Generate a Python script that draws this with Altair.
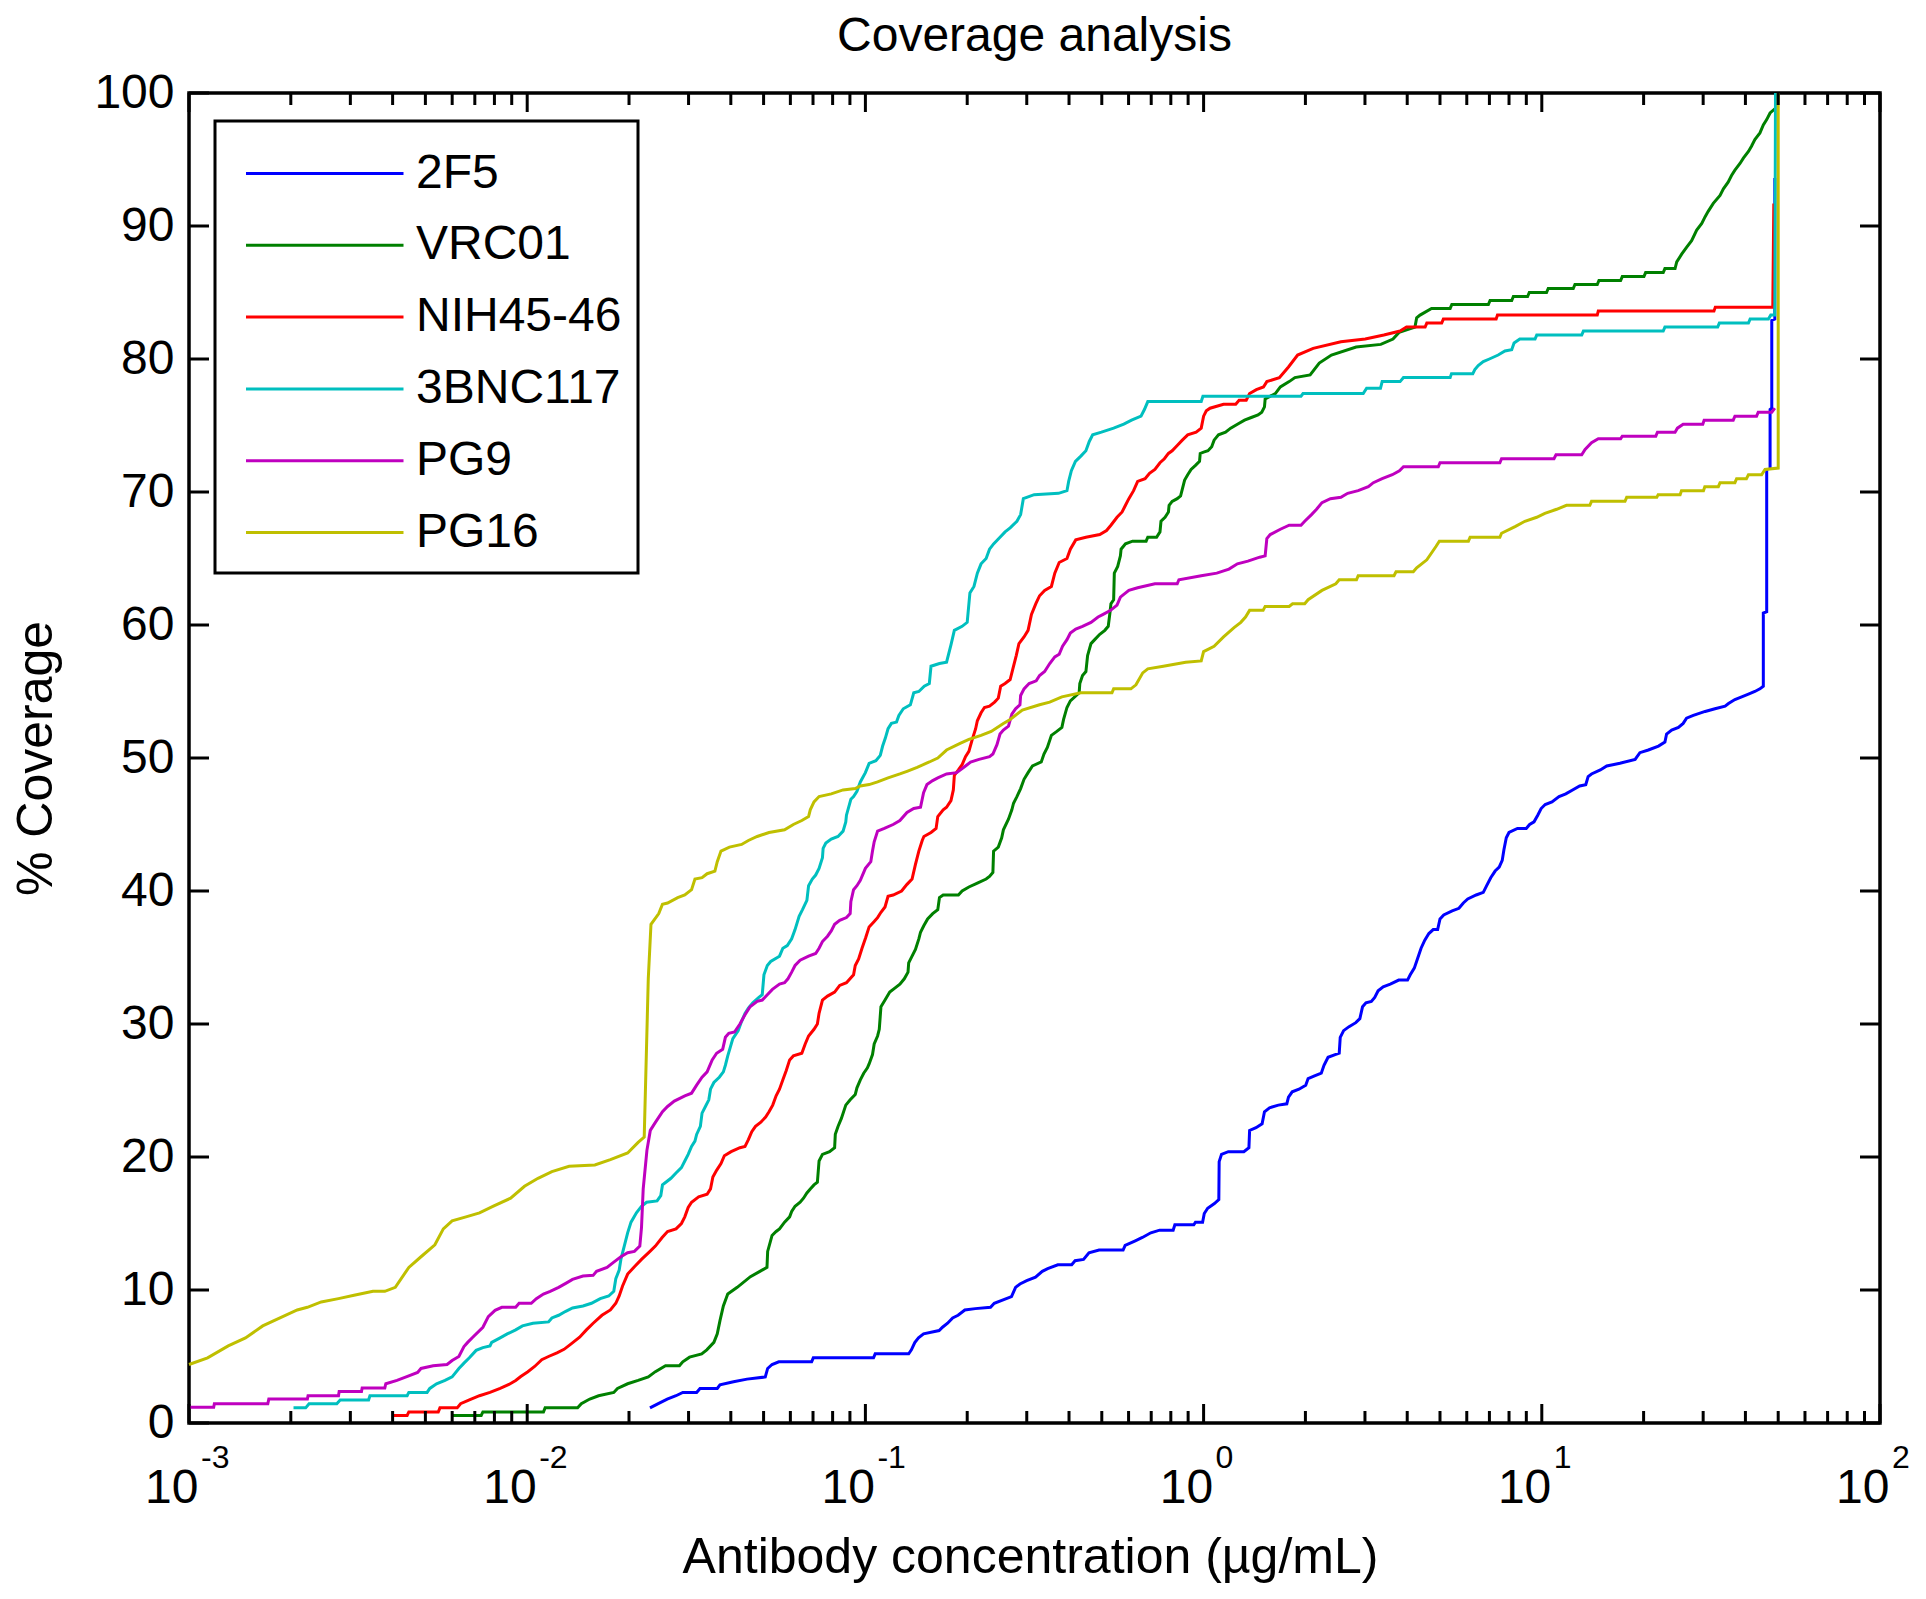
import altair as alt
import pandas as pd

# (log10 antibody concentration in ug/mL, % coverage)
AB_2F5 = [
    (-1.637, 1.14), (-1.611, 1.48), (-1.586, 1.8), (-1.560, 2.05), (-1.540, 2.3), (-1.499, 2.3),
    (-1.489, 2.6), (-1.438, 2.6), (-1.430, 2.87), (-1.390, 3.1), (-1.350, 3.3), (-1.296, 3.46),
    (-1.289, 4.1), (-1.276, 4.4), (-1.256, 4.6), (-1.159, 4.6), (-1.154, 4.9), (-0.976, 4.9),
    (-0.971, 5.2), (-0.872, 5.2), (-0.864, 5.5), (-0.854, 6.05), (-0.843, 6.4), (-0.828, 6.7),
    (-0.782, 6.95), (-0.772, 7.2), (-0.757, 7.5), (-0.742, 7.9), (-0.726, 8.1), (-0.706, 8.5),
    (-0.675, 8.6), (-0.630, 8.7), (-0.619, 9.0), (-0.589, 9.3), (-0.568, 9.5), (-0.556, 10.2),
    (-0.543, 10.45), (-0.523, 10.7), (-0.497, 10.97), (-0.477, 11.4), (-0.461, 11.6), (-0.431, 11.9),
    (-0.390, 11.9), (-0.380, 12.2), (-0.355, 12.3), (-0.339, 12.8), (-0.309, 13.0), (-0.238, 13.0),
    (-0.232, 13.35), (-0.202, 13.7), (-0.181, 13.95), (-0.156, 14.3), (-0.130, 14.5), (-0.090, 14.5),
    (-0.085, 14.9), (-0.029, 14.9), (-0.024, 15.1), (-0.003, 15.1), (0.002, 15.75), (0.012, 16.15),
    (0.032, 16.5), (0.045, 16.8), (0.046, 19.65), (0.053, 20.2), (0.073, 20.4), (0.119, 20.4),
    (0.134, 20.7), (0.136, 22.0), (0.155, 22.2), (0.173, 22.5), (0.180, 23.4), (0.195, 23.7),
    (0.221, 23.9), (0.246, 24.0), (0.251, 24.5), (0.262, 24.9), (0.282, 25.1), (0.302, 25.4),
    (0.309, 25.9), (0.328, 26.1), (0.348, 26.3), (0.356, 26.9), (0.368, 27.5), (0.389, 27.7),
    (0.401, 27.8), (0.404, 29.0), (0.414, 29.5), (0.430, 29.8), (0.450, 30.1), (0.462, 30.4),
    (0.470, 31.3), (0.480, 31.6), (0.496, 31.7), (0.506, 32.0), (0.516, 32.5), (0.531, 32.8),
    (0.552, 33.0), (0.577, 33.3), (0.603, 33.3), (0.611, 33.7), (0.623, 34.2), (0.631, 34.8),
    (0.643, 35.7), (0.654, 36.3), (0.666, 36.8), (0.679, 37.1), (0.692, 37.1), (0.699, 37.9),
    (0.710, 38.2), (0.735, 38.5), (0.755, 38.7), (0.768, 39.1), (0.781, 39.4), (0.806, 39.7),
    (0.827, 39.9), (0.837, 40.4), (0.849, 41.0), (0.862, 41.5), (0.874, 41.8), (0.883, 42.3),
    (0.888, 43.1), (0.895, 44.0), (0.903, 44.4), (0.928, 44.7), (0.954, 44.7), (0.964, 45.0),
    (0.977, 45.2), (0.988, 45.7), (0.998, 46.2), (1.010, 46.5), (1.030, 46.7), (1.051, 47.1),
    (1.071, 47.3), (1.091, 47.6), (1.112, 47.9), (1.130, 48.0), (1.137, 48.6), (1.147, 48.8),
    (1.173, 49.1), (1.192, 49.4), (1.231, 49.6), (1.276, 49.9), (1.290, 50.4), (1.315, 50.6),
    (1.345, 50.9), (1.364, 51.2), (1.369, 51.8), (1.384, 52.1), (1.404, 52.3), (1.418, 52.6),
    (1.428, 53.0), (1.448, 53.2), (1.483, 53.5), (1.512, 53.7), (1.542, 53.9), (1.552, 54.1),
    (1.571, 54.4), (1.591, 54.6), (1.611, 54.8), (1.630, 55.0), (1.645, 55.2), (1.655, 55.4),
    (1.655, 60.9), (1.665, 61.0), (1.665, 71.7), (1.675, 71.8), (1.675, 76.2), (1.680, 76.3),
    (1.680, 82.9), (1.689, 83.0), (1.689, 93.6),
]

AB_VRC01 = [
    (-2.222, 0.57), (-2.136, 0.57), (-2.131, 0.83), (-1.952, 0.83), (-1.947, 1.14), (-1.851, 1.14),
    (-1.840, 1.45), (-1.815, 1.8), (-1.789, 2.05), (-1.744, 2.3), (-1.733, 2.6), (-1.703, 2.95),
    (-1.672, 3.2), (-1.642, 3.47), (-1.621, 3.86), (-1.591, 4.3), (-1.550, 4.3), (-1.540, 4.6),
    (-1.520, 4.95), (-1.484, 5.2), (-1.469, 5.5), (-1.448, 6.06), (-1.438, 6.7), (-1.430, 7.7),
    (-1.420, 8.8), (-1.407, 9.7), (-1.379, 10.2), (-1.340, 11.0), (-1.312, 11.4), (-1.291, 11.7),
    (-1.289, 12.9), (-1.276, 14.1), (-1.264, 14.4), (-1.254, 14.6), (-1.239, 15.1), (-1.224, 15.5),
    (-1.218, 15.9), (-1.208, 16.3), (-1.193, 16.6), (-1.183, 16.9), (-1.173, 17.3), (-1.163, 17.6),
    (-1.152, 17.9), (-1.142, 18.1), (-1.137, 19.7), (-1.127, 20.2), (-1.106, 20.4), (-1.091, 20.7),
    (-1.089, 21.7), (-1.081, 22.3), (-1.071, 22.9), (-1.058, 23.9), (-1.045, 24.3), (-1.030, 24.7),
    (-1.025, 25.2), (-1.015, 25.8), (-1.005, 26.3), (-0.994, 26.7), (-0.989, 27.0), (-0.979, 27.7),
    (-0.974, 28.5), (-0.964, 29.1), (-0.959, 29.6), (-0.954, 31.3), (-0.942, 31.8), (-0.928, 32.4),
    (-0.913, 32.7), (-0.898, 33.0), (-0.885, 33.4), (-0.874, 33.9), (-0.872, 34.6), (-0.862, 35.1),
    (-0.852, 35.6), (-0.842, 36.4), (-0.837, 36.9), (-0.827, 37.4), (-0.816, 37.9), (-0.801, 38.3),
    (-0.786, 38.6), (-0.781, 39.5), (-0.770, 39.7), (-0.725, 39.7), (-0.714, 40.0), (-0.694, 40.3),
    (-0.669, 40.6), (-0.643, 40.9), (-0.633, 41.1), (-0.623, 41.4), (-0.621, 43.0), (-0.607, 43.3),
    (-0.597, 44.0), (-0.592, 44.6), (-0.577, 45.4), (-0.567, 46.1), (-0.562, 46.6), (-0.552, 47.1),
    (-0.541, 47.7), (-0.531, 48.4), (-0.519, 48.9), (-0.506, 49.4), (-0.480, 49.7), (-0.472, 50.3),
    (-0.462, 50.8), (-0.450, 51.7), (-0.434, 52.0), (-0.419, 52.3), (-0.414, 52.9), (-0.404, 53.8),
    (-0.394, 54.3), (-0.368, 54.9), (-0.366, 55.6), (-0.358, 56.2), (-0.348, 56.5), (-0.343, 57.7),
    (-0.333, 58.6), (-0.322, 58.9), (-0.307, 59.3), (-0.292, 59.6), (-0.282, 59.9), (-0.277, 60.9),
    (-0.274, 61.6), (-0.266, 61.9), (-0.264, 63.9), (-0.254, 64.4), (-0.246, 65.2), (-0.244, 65.7),
    (-0.231, 66.1), (-0.210, 66.3), (-0.170, 66.3), (-0.165, 66.6), (-0.139, 66.6), (-0.129, 67.0),
    (-0.126, 67.8), (-0.114, 68.1), (-0.104, 68.5), (-0.102, 69.0), (-0.093, 69.3), (-0.078, 69.5),
    (-0.068, 69.7), (-0.058, 70.7), (-0.056, 70.9), (-0.047, 71.3), (-0.037, 71.7), (-0.024, 72.0),
    (-0.012, 72.3), (-0.010, 72.9), (0.000, 73.0), (0.013, 73.1), (0.024, 73.4), (0.031, 73.9),
    (0.044, 74.3), (0.065, 74.5), (0.080, 74.8), (0.100, 75.1), (0.121, 75.4), (0.141, 75.6),
    (0.161, 75.8), (0.172, 76.0), (0.180, 76.4), (0.182, 77.0), (0.212, 77.4), (0.227, 77.9),
    (0.253, 78.3), (0.270, 78.6), (0.315, 78.8), (0.342, 79.7), (0.378, 80.3), (0.451, 80.9),
    (0.524, 81.1), (0.560, 81.5), (0.578, 82.0), (0.625, 82.4), (0.630, 83.1), (0.640, 83.3),
    (0.674, 83.8), (0.729, 83.8), (0.734, 84.1), (0.842, 84.1), (0.847, 84.4), (0.911, 84.4),
    (0.916, 84.7), (0.958, 84.7), (0.963, 85.0), (1.014, 85.0), (1.019, 85.3), (1.093, 85.3),
    (1.098, 85.6), (1.164, 85.6), (1.169, 85.9), (1.233, 85.9), (1.238, 86.2), (1.302, 86.2),
    (1.307, 86.5), (1.359, 86.5), (1.364, 86.8), (1.394, 86.8), (1.399, 87.3), (1.414, 87.9),
    (1.428, 88.4), (1.443, 88.9), (1.458, 89.7), (1.473, 90.2), (1.483, 90.7), (1.492, 91.1),
    (1.507, 91.7), (1.527, 92.3), (1.537, 92.8), (1.551, 93.3), (1.561, 93.8), (1.571, 94.2),
    (1.586, 94.7), (1.596, 95.1), (1.611, 95.6), (1.620, 96.0), (1.630, 96.5), (1.645, 97.0),
    (1.655, 97.6), (1.665, 98.0), (1.675, 98.5), (1.689, 98.8),
]

AB_NIH45_46 = [
    (-2.395, 0.57), (-2.355, 0.57), (-2.350, 0.83), (-2.263, 0.83), (-2.258, 1.14), (-2.207, 1.14),
    (-2.197, 1.45), (-2.171, 1.73), (-2.141, 2.05), (-2.110, 2.3), (-2.080, 2.6), (-2.054, 2.9),
    (-2.034, 3.2), (-2.019, 3.5), (-1.998, 3.86), (-1.978, 4.25), (-1.957, 4.76), (-1.937, 5.0),
    (-1.912, 5.28), (-1.891, 5.54), (-1.871, 5.93), (-1.845, 6.45), (-1.825, 7.0), (-1.805, 7.5),
    (-1.779, 8.1), (-1.754, 8.5), (-1.738, 9.0), (-1.728, 9.55), (-1.718, 10.3), (-1.703, 11.2),
    (-1.683, 11.75), (-1.662, 12.3), (-1.637, 12.9), (-1.621, 13.3), (-1.601, 13.95), (-1.585, 14.4),
    (-1.560, 14.6), (-1.544, 15.0), (-1.534, 15.5), (-1.524, 16.2), (-1.514, 16.6), (-1.493, 17.0),
    (-1.468, 17.2), (-1.458, 17.6), (-1.451, 18.5), (-1.440, 19.0), (-1.427, 19.5), (-1.417, 20.1),
    (-1.397, 20.4), (-1.371, 20.7), (-1.356, 20.8), (-1.346, 21.3), (-1.336, 21.9), (-1.325, 22.3),
    (-1.310, 22.6), (-1.295, 23.0), (-1.285, 23.4), (-1.274, 23.9), (-1.264, 24.6), (-1.254, 25.1),
    (-1.244, 25.8), (-1.234, 26.5), (-1.224, 27.3), (-1.213, 27.6), (-1.188, 27.8), (-1.178, 28.5),
    (-1.168, 29.1), (-1.152, 29.6), (-1.142, 30.0), (-1.137, 30.8), (-1.127, 31.8), (-1.112, 32.1),
    (-1.091, 32.4), (-1.076, 32.9), (-1.056, 33.1), (-1.035, 33.7), (-1.030, 34.4), (-1.020, 34.9),
    (-1.010, 35.7), (-0.999, 36.5), (-0.989, 37.3), (-0.974, 37.7), (-0.964, 38.0), (-0.954, 38.4),
    (-0.942, 38.8), (-0.933, 39.6), (-0.918, 39.7), (-0.893, 40.0), (-0.877, 40.5), (-0.862, 40.9),
    (-0.852, 42.0), (-0.842, 43.0), (-0.832, 43.8), (-0.827, 44.1), (-0.806, 44.4), (-0.791, 44.7),
    (-0.786, 45.6), (-0.770, 46.1), (-0.760, 46.3), (-0.747, 46.8), (-0.740, 47.6), (-0.737, 48.7),
    (-0.725, 49.1), (-0.714, 49.5), (-0.704, 50.1), (-0.694, 50.5), (-0.684, 51.4), (-0.674, 52.2),
    (-0.669, 52.8), (-0.658, 53.4), (-0.648, 53.8), (-0.633, 53.9), (-0.618, 54.2), (-0.607, 54.5),
    (-0.600, 55.4), (-0.587, 55.6), (-0.572, 55.9), (-0.564, 56.7), (-0.554, 57.7), (-0.546, 58.6),
    (-0.531, 59.1), (-0.519, 59.6), (-0.509, 60.8), (-0.496, 61.6), (-0.485, 62.2), (-0.470, 62.6),
    (-0.450, 62.9), (-0.440, 63.9), (-0.427, 64.7), (-0.404, 65.0), (-0.394, 65.7), (-0.378, 66.4),
    (-0.348, 66.6), (-0.307, 66.8), (-0.287, 67.1), (-0.274, 67.5), (-0.256, 68.1), (-0.241, 68.5),
    (-0.231, 69.0), (-0.221, 69.5), (-0.207, 70.1), (-0.195, 70.8), (-0.173, 71.0), (-0.160, 71.4),
    (-0.144, 71.7), (-0.129, 72.2), (-0.116, 72.5), (-0.104, 72.9), (-0.093, 73.1), (-0.078, 73.5),
    (-0.063, 73.9), (-0.047, 74.3), (-0.022, 74.5), (-0.007, 74.8), (0.000, 75.7), (0.008, 76.1),
    (0.019, 76.3), (0.059, 76.6), (0.095, 76.6), (0.105, 76.9), (0.126, 76.9), (0.136, 77.4),
    (0.156, 77.7), (0.177, 77.9), (0.187, 78.3), (0.224, 78.6), (0.251, 79.4), (0.278, 80.3),
    (0.324, 80.8), (0.406, 81.3), (0.478, 81.5), (0.533, 81.8), (0.581, 82.1), (0.600, 82.4),
    (0.655, 82.4), (0.660, 82.7), (0.704, 82.7), (0.709, 83.0), (0.865, 83.0), (0.869, 83.3),
    (1.164, 83.3), (1.167, 83.6), (1.509, 83.6), (1.513, 83.9), (1.683, 83.9), (1.686, 91.7),
]

AB_3BNC117 = [
    (-2.691, 1.14), (-2.655, 1.14), (-2.645, 1.45), (-2.563, 1.45), (-2.553, 1.73), (-2.469, 1.73),
    (-2.465, 2.05), (-2.355, 2.05), (-2.350, 2.3), (-2.296, 2.3), (-2.288, 2.6), (-2.268, 2.95),
    (-2.243, 3.2), (-2.222, 3.47), (-2.202, 4.1), (-2.187, 4.5), (-2.171, 4.9), (-2.151, 5.46),
    (-2.131, 5.67), (-2.110, 5.8), (-2.105, 6.06), (-2.080, 6.4), (-2.059, 6.7), (-2.034, 7.0),
    (-2.014, 7.3), (-1.983, 7.5), (-1.937, 7.6), (-1.927, 7.9), (-1.907, 8.1), (-1.886, 8.4),
    (-1.866, 8.65), (-1.835, 8.8), (-1.810, 9.0), (-1.784, 9.35), (-1.759, 9.55), (-1.744, 9.9),
    (-1.738, 10.85), (-1.728, 11.5), (-1.723, 12.3), (-1.713, 13.3), (-1.703, 14.3), (-1.693, 15.1),
    (-1.677, 15.8), (-1.662, 16.3), (-1.647, 16.6), (-1.616, 16.7), (-1.605, 17.1), (-1.600, 17.9),
    (-1.590, 18.1), (-1.575, 18.4), (-1.560, 18.8), (-1.544, 19.2), (-1.534, 19.7), (-1.524, 20.2),
    (-1.514, 20.8), (-1.504, 21.2), (-1.499, 21.7), (-1.488, 22.3), (-1.483, 23.3), (-1.473, 23.8),
    (-1.463, 24.3), (-1.458, 25.1), (-1.448, 25.6), (-1.432, 26.0), (-1.420, 26.4), (-1.414, 26.9),
    (-1.407, 27.6), (-1.400, 28.2), (-1.392, 28.9), (-1.376, 29.5), (-1.366, 30.2), (-1.356, 30.8),
    (-1.346, 31.2), (-1.333, 31.6), (-1.315, 32.0), (-1.305, 32.2), (-1.300, 33.7), (-1.290, 34.4),
    (-1.280, 34.7), (-1.254, 35.1), (-1.244, 35.7), (-1.231, 35.9), (-1.218, 36.4), (-1.208, 37.1),
    (-1.196, 38.1), (-1.186, 38.6), (-1.173, 39.3), (-1.168, 40.4), (-1.157, 40.9), (-1.147, 41.2),
    (-1.137, 41.7), (-1.127, 42.5), (-1.125, 43.2), (-1.117, 43.6), (-1.101, 43.9), (-1.081, 44.1),
    (-1.066, 44.5), (-1.058, 45.2), (-1.056, 45.7), (-1.043, 46.9), (-1.035, 47.1), (-1.025, 47.5),
    (-1.015, 48.2), (-1.000, 48.9), (-0.989, 49.6), (-0.969, 49.8), (-0.956, 50.2), (-0.949, 50.9),
    (-0.941, 51.5), (-0.933, 52.2), (-0.923, 52.6), (-0.908, 52.7), (-0.901, 53.2), (-0.888, 53.7),
    (-0.867, 54.0), (-0.857, 54.9), (-0.842, 55.0), (-0.826, 55.4), (-0.811, 55.6), (-0.806, 56.9),
    (-0.781, 57.1), (-0.760, 57.2), (-0.747, 58.5), (-0.737, 59.6), (-0.714, 59.9), (-0.699, 60.2),
    (-0.691, 62.4), (-0.679, 62.9), (-0.669, 63.9), (-0.658, 64.6), (-0.643, 65.0), (-0.633, 65.7),
    (-0.621, 66.1), (-0.602, 66.6), (-0.587, 67.0), (-0.572, 67.3), (-0.552, 67.8), (-0.541, 68.3),
    (-0.533, 69.5), (-0.501, 69.8), (-0.429, 69.9), (-0.404, 70.1), (-0.399, 70.8), (-0.391, 71.6),
    (-0.379, 72.3), (-0.363, 72.7), (-0.348, 73.1), (-0.338, 73.8), (-0.328, 74.3), (-0.302, 74.5),
    (-0.266, 74.8), (-0.236, 75.1), (-0.213, 75.4), (-0.185, 75.7), (-0.175, 76.2), (-0.165, 76.8),
    (-0.007, 76.8), (-0.002, 77.2), (0.288, 77.2), (0.294, 77.4), (0.472, 77.4), (0.482, 77.8),
    (0.523, 77.8), (0.528, 78.3), (0.581, 78.3), (0.591, 78.6), (0.729, 78.6), (0.733, 78.9),
    (0.796, 78.9), (0.802, 79.2), (0.812, 79.5), (0.827, 79.8), (0.845, 80.0), (0.871, 80.3),
    (0.891, 80.6), (0.911, 80.7), (0.918, 81.2), (0.935, 81.5), (0.980, 81.5), (0.985, 81.8),
    (1.118, 81.8), (1.123, 82.1), (1.359, 82.1), (1.364, 82.4), (1.520, 82.4), (1.525, 82.7),
    (1.611, 82.7), (1.616, 83.0), (1.670, 83.0), (1.677, 83.3), (1.689, 83.3), (1.691, 100.0),
]

AB_PG9 = [
    (-3.000, 1.19), (-2.927, 1.19), (-2.925, 1.45), (-2.767, 1.45), (-2.764, 1.8), (-2.650, 1.8),
    (-2.648, 2.05), (-2.558, 2.05), (-2.556, 2.36), (-2.490, 2.36), (-2.488, 2.64), (-2.421, 2.64),
    (-2.418, 2.95), (-2.385, 3.2), (-2.354, 3.5), (-2.324, 3.8), (-2.314, 4.1), (-2.278, 4.3),
    (-2.237, 4.4), (-2.222, 4.7), (-2.202, 5.0), (-2.187, 5.75), (-2.176, 6.06), (-2.161, 6.45),
    (-2.131, 7.2), (-2.115, 8.0), (-2.095, 8.47), (-2.075, 8.7), (-2.034, 8.7), (-2.024, 9.0),
    (-1.988, 9.0), (-1.973, 9.35), (-1.952, 9.7), (-1.932, 9.9), (-1.907, 10.2), (-1.886, 10.5),
    (-1.866, 10.8), (-1.835, 11.05), (-1.805, 11.1), (-1.795, 11.4), (-1.764, 11.7), (-1.744, 12.1),
    (-1.723, 12.5), (-1.703, 12.8), (-1.683, 12.9), (-1.667, 13.3), (-1.662, 14.7), (-1.657, 17.6),
    (-1.646, 20.5), (-1.636, 22.0), (-1.621, 22.6), (-1.600, 23.4), (-1.585, 23.8), (-1.565, 24.2),
    (-1.534, 24.6), (-1.514, 24.8), (-1.499, 25.4), (-1.483, 26.0), (-1.468, 26.4), (-1.453, 27.3),
    (-1.440, 27.8), (-1.422, 28.1), (-1.414, 29.0), (-1.404, 29.3), (-1.387, 29.4), (-1.371, 30.0),
    (-1.356, 30.7), (-1.341, 31.3), (-1.320, 31.7), (-1.305, 31.8), (-1.290, 32.2), (-1.275, 32.6),
    (-1.254, 33.0), (-1.239, 33.1), (-1.229, 33.4), (-1.218, 33.9), (-1.208, 34.4), (-1.193, 34.8),
    (-1.168, 35.1), (-1.147, 35.3), (-1.137, 35.7), (-1.127, 36.2), (-1.112, 36.6), (-1.101, 37.0),
    (-1.091, 37.5), (-1.076, 37.8), (-1.056, 38.0), (-1.045, 38.3), (-1.043, 39.2), (-1.035, 40.1),
    (-1.025, 40.4), (-1.015, 40.8), (-1.000, 41.7), (-0.984, 42.2), (-0.979, 43.0), (-0.974, 43.7),
    (-0.964, 44.5), (-0.944, 44.7), (-0.918, 45.0), (-0.898, 45.3), (-0.877, 45.9), (-0.857, 46.2),
    (-0.837, 46.3), (-0.828, 47.4), (-0.818, 48.0), (-0.801, 48.3), (-0.786, 48.5), (-0.760, 48.8),
    (-0.730, 48.9), (-0.714, 49.2), (-0.704, 49.4), (-0.689, 49.7), (-0.664, 49.9), (-0.633, 50.1),
    (-0.623, 50.3), (-0.611, 51.0), (-0.602, 51.8), (-0.592, 52.1), (-0.577, 52.4), (-0.567, 53.3),
    (-0.556, 53.7), (-0.543, 54.0), (-0.541, 54.7), (-0.531, 55.2), (-0.516, 55.6), (-0.495, 55.8),
    (-0.485, 56.2), (-0.470, 56.5), (-0.455, 57.1), (-0.440, 57.6), (-0.427, 57.8), (-0.417, 58.4),
    (-0.404, 58.9), (-0.394, 59.4), (-0.378, 59.7), (-0.358, 59.9), (-0.333, 60.2), (-0.312, 60.6),
    (-0.297, 60.8), (-0.275, 61.1), (-0.256, 61.5), (-0.246, 62.1), (-0.236, 62.3), (-0.221, 62.6),
    (-0.195, 62.8), (-0.144, 63.1), (-0.078, 63.1), (-0.073, 63.4), (-0.007, 63.7), (0.039, 63.9),
    (0.075, 64.2), (0.100, 64.6), (0.131, 64.8), (0.166, 65.1), (0.182, 65.2), (0.187, 66.5),
    (0.197, 66.8), (0.227, 67.2), (0.253, 67.5), (0.288, 67.5), (0.299, 67.8), (0.319, 68.3),
    (0.334, 68.7), (0.350, 69.2), (0.375, 69.5), (0.406, 69.6), (0.426, 69.9), (0.457, 70.1),
    (0.487, 70.4), (0.502, 70.7), (0.528, 71.0), (0.558, 71.3), (0.579, 71.6), (0.591, 71.9),
    (0.694, 71.9), (0.699, 72.2), (0.876, 72.2), (0.881, 72.5), (1.036, 72.5), (1.042, 72.8),
    (1.118, 72.8), (1.128, 73.2), (1.147, 73.7), (1.167, 74.0), (1.233, 74.0), (1.238, 74.2),
    (1.337, 74.2), (1.342, 74.5), (1.394, 74.5), (1.401, 74.8), (1.418, 75.1), (1.476, 75.1),
    (1.480, 75.4), (1.566, 75.4), (1.571, 75.7), (1.635, 75.7), (1.640, 76.0), (1.680, 76.0),
    (1.689, 76.3),
]

AB_PG16 = [
    (-3.000, 4.4), (-2.945, 4.9), (-2.884, 5.8), (-2.833, 6.4), (-2.782, 7.3), (-2.731, 7.9),
    (-2.680, 8.5), (-2.650, 8.7), (-2.609, 9.1), (-2.558, 9.35), (-2.512, 9.6), (-2.456, 9.9),
    (-2.421, 9.9), (-2.390, 10.2), (-2.350, 11.7), (-2.314, 12.5), (-2.273, 13.4), (-2.248, 14.6),
    (-2.222, 15.2), (-2.181, 15.5), (-2.141, 15.8), (-2.100, 16.3), (-2.049, 16.9), (-2.008, 17.8),
    (-1.968, 18.4), (-1.927, 18.9), (-1.876, 19.3), (-1.800, 19.4), (-1.754, 19.8), (-1.703, 20.3),
    (-1.672, 21.1), (-1.654, 21.5), (-1.642, 33.4), (-1.634, 37.5), (-1.611, 38.3), (-1.600, 39.0),
    (-1.585, 39.1), (-1.555, 39.5), (-1.534, 39.7), (-1.514, 40.1), (-1.504, 40.9), (-1.483, 41.0),
    (-1.468, 41.3), (-1.445, 41.5), (-1.438, 42.2), (-1.427, 43.0), (-1.402, 43.3), (-1.366, 43.5),
    (-1.346, 43.8), (-1.320, 44.1), (-1.285, 44.4), (-1.239, 44.6), (-1.213, 45.0), (-1.188, 45.3),
    (-1.168, 45.6), (-1.163, 46.1), (-1.152, 46.7), (-1.137, 47.1), (-1.101, 47.3), (-1.066, 47.6),
    (-1.030, 47.7), (-1.015, 47.9), (-0.989, 48.0), (-0.964, 48.2), (-0.933, 48.5), (-0.898, 48.8),
    (-0.877, 49.0), (-0.847, 49.3), (-0.811, 49.7), (-0.786, 50.0), (-0.760, 50.6), (-0.720, 51.1),
    (-0.694, 51.4), (-0.658, 51.7), (-0.628, 52.0), (-0.592, 52.6), (-0.572, 52.9), (-0.536, 53.6),
    (-0.485, 54.0), (-0.455, 54.2), (-0.419, 54.6), (-0.363, 54.9), (-0.271, 54.9), (-0.266, 55.2),
    (-0.215, 55.2), (-0.200, 55.5), (-0.180, 56.4), (-0.165, 56.7), (-0.119, 56.9), (-0.053, 57.2),
    (-0.007, 57.3), (0.000, 58.0), (0.031, 58.4), (0.059, 59.1), (0.090, 59.8), (0.110, 60.2),
    (0.124, 60.6), (0.136, 61.1), (0.176, 61.1), (0.182, 61.4), (0.253, 61.4), (0.263, 61.6),
    (0.299, 61.6), (0.309, 61.9), (0.350, 62.6), (0.391, 63.1), (0.401, 63.4), (0.452, 63.4),
    (0.457, 63.7), (0.563, 63.7), (0.569, 64.0), (0.620, 64.0), (0.630, 64.3), (0.660, 64.9),
    (0.687, 65.9), (0.697, 66.3), (0.783, 66.3), (0.788, 66.6), (0.876, 66.6), (0.881, 66.9),
    (0.921, 67.4), (0.950, 67.8), (0.985, 68.1), (1.009, 68.4), (1.044, 68.7), (1.073, 69.0),
    (1.142, 69.0), (1.147, 69.3), (1.246, 69.3), (1.251, 69.6), (1.340, 69.6), (1.344, 69.8),
    (1.409, 69.8), (1.413, 70.1), (1.478, 70.1), (1.482, 70.4), (1.522, 70.4), (1.527, 70.7),
    (1.571, 70.7), (1.576, 71.0), (1.605, 71.0), (1.611, 71.3), (1.650, 71.3), (1.660, 71.7),
    (1.699, 71.8), (1.699, 100.0),
]

SERIES = ["2F5", "VRC01", "NIH45-46", "3BNC117", "PG9", "PG16"]
SERIES_POINTS = [AB_2F5, AB_VRC01, AB_NIH45_46, AB_3BNC117, AB_PG9, AB_PG16]
COLORS = ["#0000ff", "#008000", "#ff0000", "#00bfbf", "#bf00bf", "#bfbf00"]

DECADES = [0.001, 0.01, 0.1, 1, 10, 100]
EXPONENTS = ["-3", "-2", "-1", "0", "1", "2"]
MINOR_TICKS = [m * d for d in DECADES[:-1] for m in range(2, 10)]
Y_TICKS = list(range(0, 101, 10))

W, H = 1691, 1330
FONT = "Liberation Sans"

rows = []
for name, pts in zip(SERIES, SERIES_POINTS):
    for i, (lx, cov) in enumerate(pts):
        rows.append({"antibody": name, "conc": 10 ** lx, "coverage": cov, "i": i})
curves = pd.DataFrame(rows)

x_scale = alt.Scale(type="log", domain=[0.001, 100], nice=False)
y_scale = alt.Scale(domain=[0, 100], nice=False, zero=False)

# same axis objects on every layer so that Vega-Lite keeps one merged axis
x_axis = alt.Axis(
    values=DECADES, labelExpr="'10'", labelFontSize=48, labelAlign="right", labelOffset=9,
    labelBaseline="alphabetic", labelPadding=79, labelFlush=False, labelOverlap=False,
    ticks=False, tickSize=0, domain=False, grid=False,
    title="Antibody concentration (µg/mL)", titleFontSize=50, titleFontWeight="normal",
    titleBaseline="alphabetic", titleX=841, titleY=149, titleAlign="center",
)
y_axis = alt.Axis(
    values=Y_TICKS, labelFontSize=48, labelPadding=15, ticks=False, tickSize=0,
    domain=False, grid=False,
    title="% Coverage", titleFontSize=50, titleFontWeight="normal", titleAngle=270,
    titleBaseline="alphabetic", titleX=-138, titleY=665, titleAlign="center",
)

lines = alt.Chart(curves).mark_line(strokeWidth=3).encode(
    x=alt.X("conc:Q", scale=x_scale, axis=x_axis),
    y=alt.Y("coverage:Q", scale=y_scale, axis=y_axis),
    color=alt.Color("antibody:N", scale=alt.Scale(domain=SERIES, range=COLORS), legend=alt.Legend(
        title=None, orient="none", legendX=26, legendY=28,
        symbolType="M-1,0H3.5", symbolSize=4900, symbolStrokeWidth=3, symbolOffset=13.5,
        labelFontSize=48, labelFont=FONT, labelOffset=98.5, labelLimit=500,
        padding=16, rowPadding=10.8, strokeColor="black", fillColor="white",
    )),
    order=alt.Order("i:Q"),
)

exps = alt.Chart(pd.DataFrame({"v": DECADES, "e": EXPONENTS})).mark_text(
    align="left", baseline="alphabetic", fontSize=32, dx=12, font=FONT
).encode(
    x=alt.X("v:Q", scale=x_scale, axis=x_axis),
    y=alt.value(1375),
    text="e:N",
)


def x_ticks(values, y0, y1):
    return alt.Chart(pd.DataFrame({"v": values})).mark_rule(color="black", strokeWidth=3).encode(
        x=alt.X("v:Q", scale=x_scale, axis=x_axis), y=alt.value(y0), y2=alt.value(y1)
    )


def y_ticks(x0, x1):
    return alt.Chart(pd.DataFrame({"v": Y_TICKS})).mark_rule(color="black", strokeWidth=3).encode(
        y=alt.Y("v:Q", scale=y_scale, axis=y_axis), x=alt.value(x0), x2=alt.value(x1)
    )


ticks = [
    x_ticks(DECADES, H, H - 19), x_ticks(MINOR_TICKS, H, H - 12),
    x_ticks(DECADES, 0, 19), x_ticks(MINOR_TICKS, 0, 12),
    y_ticks(0, 20), y_ticks(W - 20, W),
]

chart = alt.layer(lines, exps, *ticks).properties(
    width=W, height=H,
    title=alt.TitleParams("Coverage analysis", fontSize=48, fontWeight="normal", font=FONT,
                          baseline="alphabetic", offset=32, dy=62, anchor="middle"),
    autosize=alt.AutoSizeParams(type="none"),
    padding={"left": 181, "top": 85, "right": 38, "bottom": 168},
).configure(font=FONT).configure_view(
    stroke="black", strokeWidth=3.5
).configure_legend(strokeWidth=3).configure_axis(
    labelColor="black", titleColor="black", labelFont=FONT, titleFont=FONT
)

chart.save("out.html", embed_options={"renderer": "svg", "actions": False})
